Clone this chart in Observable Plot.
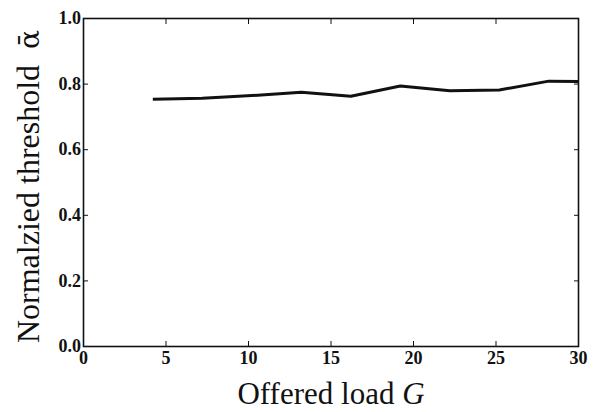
<!DOCTYPE html>
<html>
<head>
<meta charset="utf-8">
<script src="https://cdn.jsdelivr.net/npm/d3@7"></script>
<script src="https://cdn.jsdelivr.net/npm/@observablehq/plot@0.6"></script>
<style>
  html, body { margin: 0; padding: 0; background: #fff; }
  #chart svg { display: block; }
</style>
</head>
<body>
<div id="chart"></div>
<script>
const load = [4.2, 7.2, 10.2, 13.2, 16.2, 19.2, 22.2, 25.2, 28.2, 30];
const alpha = [0.754, 0.757, 0.765, 0.775, 0.763, 0.794, 0.780, 0.782, 0.809, 0.808];
const xTicks = [0, 5, 10, 15, 20, 25, 30];
const yTicks = [0.0, 0.2, 0.4, 0.6, 0.8, 1.0];
const xLabel = "Offered load G";
const yLabel = "Normalzied threshold  ᾱ";

const data = load.map((g, i) => ({g, a: alpha[i]}));
const font = "'Liberation Serif', 'Times New Roman', serif";

const chart = Plot.plot({
  width: 594,
  height: 412,
  marginLeft: 83,
  marginRight: 16,
  marginTop: 18,
  marginBottom: 66,
  style: {fontFamily: font, fontSize: "18px", color: "#111", background: "#fff"},
  x: {domain: [0, 30], ticks: xTicks},
  y: {domain: [0, 1], ticks: yTicks},
  marks: [
    Plot.frame({stroke: "#111", strokeWidth: 1.6}),
    Plot.axisX(xTicks, {anchor: "bottom", tickSize: -5, tickPadding: 10, tickFormat: d => String(d), label: null, fontSize: 18, fontWeight: "bold"}),
    Plot.axisX(xTicks, {anchor: "top", tickSize: -5, tickFormat: () => "", label: null}),
    Plot.axisY(yTicks, {anchor: "left", tickSize: -5, tickPadding: 7.5, tickFormat: d => d.toFixed(1), label: null, fontSize: 18, fontWeight: "bold"}),
    Plot.axisY(yTicks, {anchor: "right", tickSize: -5, tickFormat: () => "", label: null}),
    Plot.line(data, {x: "g", y: "a", stroke: "#111", strokeWidth: 3, strokeLinejoin: "round", strokeLinecap: "butt"}),
    Plot.text([xLabel], {text: d => d, frameAnchor: "bottom", dy: 48, fontSize: 31, fill: "#111", textAnchor: "middle", lineAnchor: "middle", className: "xlab"}),
    Plot.text([yLabel], {text: d => d, frameAnchor: "left", dx: -55, dy: 4, rotate: -90, fontSize: 32, fill: "#111", textAnchor: "middle", lineAnchor: "middle", className: "ylab"})
  ]
});

// style G in italic, and the alpha-bar symbol
const svg = d3.select(chart);
svg.selectAll(".xlab text").each(function() {
  const t = d3.select(this);
  const s = t.text();
  t.text(null);
  t.append("tspan").text(s.slice(0, -1));
  t.append("tspan").attr("font-style", "italic").text(s.slice(-1));
});
svg.selectAll(".ylab text").each(function() {
  const t = d3.select(this);
  const s = t.text();
  t.text(null);
  t.append("tspan").text(s.slice(0, -1));
  t.append("tspan").attr("font-family", "'DejaVu Serif', serif").attr("font-size", 28).text(s.slice(-1));
});

document.getElementById("chart").appendChild(chart);
</script>
</body>
</html>
